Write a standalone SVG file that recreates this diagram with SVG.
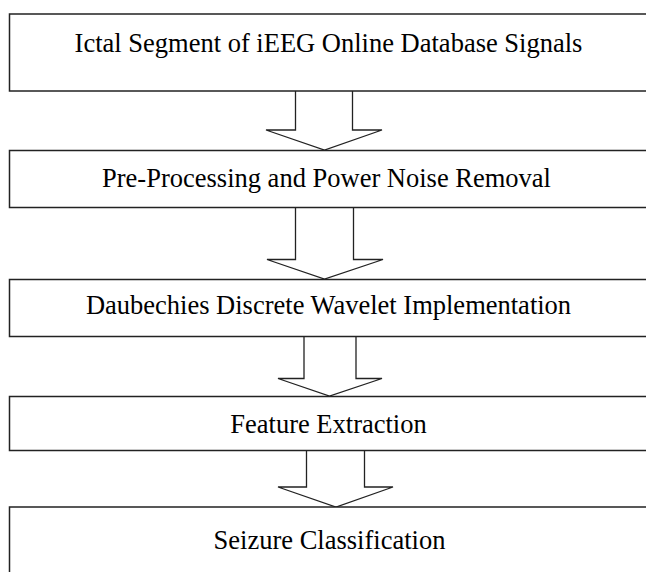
<svg xmlns="http://www.w3.org/2000/svg" width="646" height="572" viewBox="0 0 646 572">
<style>
.box{fill:#fff;stroke:#222;stroke-width:1.5}
.arrow{fill:#fff;stroke:#222;stroke-width:1.3;stroke-linejoin:miter}
.lbl{font-family:"Liberation Serif","Times New Roman",serif;font-size:26.5px;fill:#000;text-anchor:middle}
</style>
<rect width="646" height="572" fill="#fff"/>
<g id="connectors">
<path class="arrow" d="M295.5,91 V130 H266 L324.5,150 L382,130 H352.5 V91"/>
<path class="arrow" d="M295.5,208 V259.5 H267 L324.5,279 L383,259.5 H353.5 V208"/>
<path class="arrow" d="M304,337 V378.5 H278 L329.5,396 L382,378.5 H356 V337"/>
<path class="arrow" d="M306.5,451 V487 H278 L336,507 L393,487 H364.5 V451"/>
</g>
<g id="n1"><rect class="box" x="9.5" y="14" width="660" height="77"/>
<text class="lbl" x="328.5" y="52">Ictal Segment of iEEG Online Database Signals</text></g>
<g id="n2"><rect class="box" x="9.5" y="150.5" width="660" height="57"/>
<text class="lbl" x="326.5" y="187">Pre-Processing and Power Noise Removal</text></g>
<g id="n3"><rect class="box" x="9.5" y="279.5" width="660" height="57"/>
<text class="lbl" x="328.5" y="314">Daubechies Discrete Wavelet Implementation</text></g>
<g id="n4"><rect class="box" x="9.5" y="396.5" width="660" height="54"/>
<text class="lbl" x="328.5" y="433">Feature Extraction</text></g>
<g id="n5"><rect class="box" x="9.5" y="507" width="660" height="90"/>
<text class="lbl" x="329.5" y="549">Seizure Classification</text></g>
</svg>
